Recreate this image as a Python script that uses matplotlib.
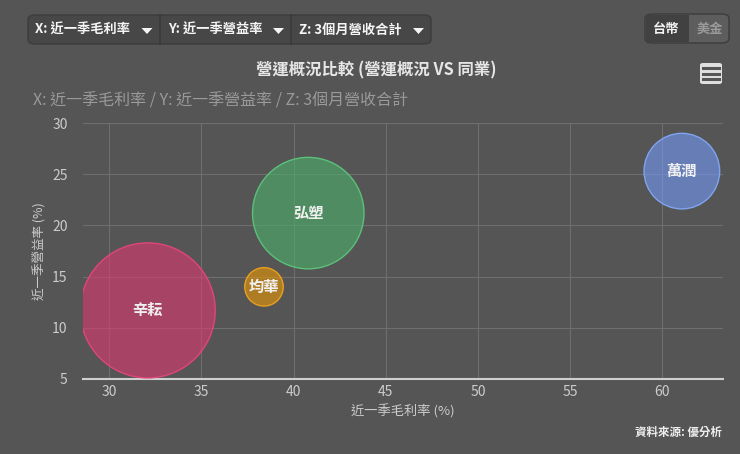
import numpy as np
import matplotlib.pyplot as plt
from matplotlib.patches import FancyBboxPatch, Rectangle, Polygon

plt.rcParams['font.family'] = ['Noto Sans CJK TC', 'DejaVu Sans']

# data
names = ['辛耘', '弘塑', '均華', '萬潤']
gross_margin = [32.1, 40.8, 38.4, 61.05]   # X: 近一季毛利率 (%)
op_margin = [11.7, 21.2, 14.0, 25.3]       # Y: 近一季營益率 (%)
revenue_3m = [45.6, 31.1, 3.7, 14.3]       # Z: 3個月營收合計
colors = ['#df3a70', '#4bb16b', '#eb9802', '#7399f7']
edges = ['#e0457b', '#5cc07a', '#e8a020', '#80a4f0']

bg = '#555555'
W, H = 740, 454
fig = plt.figure(figsize=(7.4, 4.54), dpi=100)
fig.patch.set_facecolor(bg)
ax = fig.add_axes([83 / W, 1 - 379 / H, 640 / W, 256 / H])
ax.set_facecolor(bg)

# marker area in pt^2, largest bubble ~135 px wide
k = (135 * 0.72) ** 2 / max(revenue_3m)
sizes = [z * k for z in revenue_3m]
for i in range(len(names)):
    ax.scatter(gross_margin[i], op_margin[i], s=sizes[i], c=colors[i], alpha=0.6,
               edgecolors='none', zorder=3)
    ax.scatter(gross_margin[i], op_margin[i], s=sizes[i], facecolors='none',
               edgecolors=edges[i], linewidths=1.0, zorder=4)
    ax.text(gross_margin[i], op_margin[i], names[i], ha='center', va='center',
            fontsize=11, fontweight='bold', color='#f0f0f0', zorder=5)

ax.set_xlim(28.59, 63.28)
ax.set_ylim(5, 30)
ax.set_xticks([30, 35, 40, 45, 50, 55, 60])
ax.set_yticks([5, 10, 15, 20, 25, 30])
ax.grid(True, color='#6e6e6e', linewidth=0.8, zorder=0)
ax.set_axisbelow(True)
for s in ['top', 'right', 'left']:
    ax.spines[s].set_visible(False)
ax.spines['bottom'].set_color('#cfcfcf')
ax.spines['bottom'].set_linewidth(1.5)
ax.tick_params(axis='both', length=0, colors='#cccccc', labelsize=10)
ax.tick_params(axis='x', pad=4)
ax.tick_params(axis='y', pad=11)
ax.set_xlabel('近一季毛利率 (%)', color='#cccccc', fontsize=9.5, labelpad=4)
ax.set_ylabel('近一季營益率 (%)', color='#cccccc', fontsize=9, labelpad=5)

# titles
fig.text(376 / W, 1 - 70 / H, '營運概況比較 (營運概況 VS 同業)', ha='center', va='center',
         fontsize=11.8, fontweight='bold', color='#e6e6e6')
fig.text(33 / W, 1 - 101 / H, 'X: 近一季毛利率 / Y: 近一季營益率 / Z: 3個月營收合計',
         ha='left', va='center', fontsize=11.5, color='#9a9a9a')
fig.text(722 / W, 1 - 432 / H, '資料來源: 優分析', ha='right', va='center',
         fontsize=8.3, fontweight='bold', color='#eeeeee')

# dropdown button group
fig.patches.append(FancyBboxPatch((28 / W, 1 - 44 / H), 403 / W, 29 / H,
                                  boxstyle='round,pad=0,rounding_size=0.01',
                                  transform=fig.transFigure, facecolor='#474747',
                                  edgecolor='#3c3c3c', linewidth=1))
for xs in [160, 291]:
    fig.lines.append(plt.Line2D([xs / W, xs / W], [1 - 44 / H, 1 - 15 / H],
                                transform=fig.transFigure, color='#3a3a3a', linewidth=1.2))
buttons = ['X: 近一季毛利率', 'Y: 近一季營益率', 'Z: 3個月營收合計']
bx = [35, 168, 299]
arrow_x = [147, 278.5, 418.5]
for t, x, axx in zip(buttons, bx, arrow_x):
    fig.text(x / W, 1 - 30 / H, t, ha='left', va='center', fontsize=9.5,
             fontweight='bold', color='#f5f5f5')
    tri = [((axx - 5.5) / W, 1 - 28 / H), ((axx + 5.5) / W, 1 - 28 / H),
           (axx / W, 1 - 34 / H)]
    fig.patches.append(Polygon(tri, closed=True, transform=fig.transFigure,
                               facecolor='#f5f5f5', edgecolor='none'))

# currency toggle
fig.patches.append(FancyBboxPatch((645 / W, 1 - 43 / H), 84 / W, 29 / H,
                                  boxstyle='round,pad=0,rounding_size=0.01',
                                  transform=fig.transFigure, facecolor='#5d5d5d',
                                  edgecolor='#3c3c3c', linewidth=1))
fig.patches.append(Rectangle((646 / W, 1 - 42 / H), 43 / W, 27 / H,
                             transform=fig.transFigure, facecolor='#414141',
                             edgecolor='none'))
fig.text(666 / W, 1 - 29 / H, '台幣', ha='center', va='center', fontsize=9.5,
         fontweight='bold', color='#f5f5f5')
fig.text(710 / W, 1 - 29 / H, '美金', ha='center', va='center', fontsize=9.5,
         fontweight='bold', color='#9a9a9a')

# menu icon
fig.patches.append(FancyBboxPatch((700 / W, 1 - 84 / H), 22 / W, 21 / H,
                                  boxstyle='round,pad=0,rounding_size=0.004',
                                  transform=fig.transFigure, facecolor='#e0e0e0',
                                  edgecolor='none'))
for yy in [68, 73.5, 79]:
    fig.lines.append(plt.Line2D([703 / W, 719 / W], [1 - yy / H, 1 - yy / H],
                                transform=fig.transFigure, color='#555555', linewidth=2.2))

fig.savefig('out.png', dpi=100, facecolor=bg)
